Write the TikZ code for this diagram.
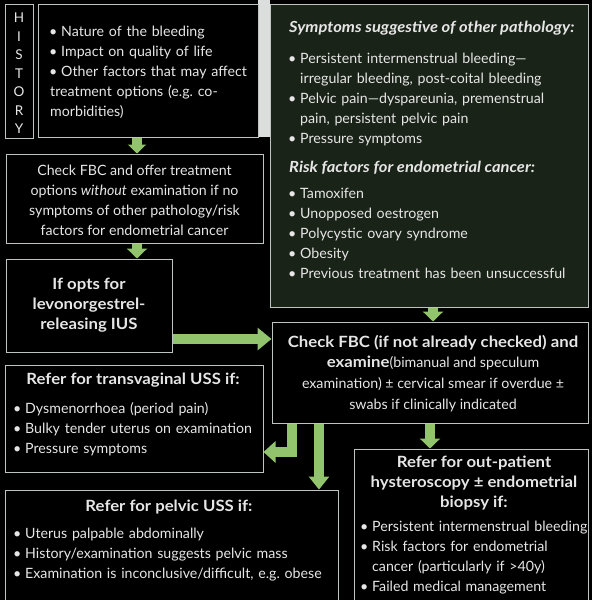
\documentclass[tikz,border=0pt]{standalone}
\usepackage{fontspec}
\setmainfont{Lato}
\newfontfamily\hdf[FakeStretch=1.08]{Lato}
\usetikzlibrary{arrows.meta}
\definecolor{boxline}{RGB}{190,196,192}
\definecolor{txt}{RGB}{230,230,230}
\definecolor{grn}{RGB}{146,196,110}
\definecolor{dkgreen}{RGB}{26,35,23}
\definecolor{strip}{RGB}{220,222,221}
\setlength\parindent{0pt}
\newcommand\fstrut{\vrule height 14pt depth 0pt width 0pt}
\newcommand\bulbox{\hbox to 11pt{\hbox to 6pt{\hss\textbullet\hss}\hss}}
\newcommand\bfirst{\leavevmode\hangindent=11pt\hangafter=1\bulbox\fstrut}
\newcommand\bitem{\par\hangindent=11pt\hangafter=1\noindent\bulbox}
\begin{document}
\begin{tikzpicture}[x=1pt,y=-1pt,
  box/.style={draw=boxline, line width=1pt, fill=black, inner sep=0pt},
  txtn/.style={text=txt, inner sep=0pt, font=\fontsize{14.2}{20}\selectfont},
  lst/.style={txtn, anchor=north west, text width=320pt, align=left},
  ctr/.style={txtn, anchor=north, align=center},
  hd/.style={ctr, font=\hdf\fontsize{15.5}{20}\selectfont\bfseries},
  hdl/.style={txtn, anchor=north west, align=left, font=\hdf\fontsize{15.3}{20}\selectfont\bfseries\itshape},
  flow/.style={draw=grn, line width=10pt, -{Triangle[width=20pt,length=10pt]}}]
\fill[black] (0,0) rectangle (592,600);
\useasboundingbox (0,0) rectangle (592,600);
\fill[strip] (258,0) rectangle (270,137);
% boxes
\node[box, minimum width=28pt, minimum height=134pt] (histlab) at (19,71) {};
\node[txtn, anchor=north, align=center, font=\fontsize{13.5}{18.5}\selectfont] (histtxt) at (19,13) {H\\I\\S\\T\\O\\R\\Y};
\node[box, minimum width=220pt, minimum height=133pt] (hist) at (148,70.5) {};
\node[box, minimum width=257pt, minimum height=89pt] (check1) at (134.5,198.5) {};
\node[box, minimum width=166pt, minimum height=93pt] (ius) at (89,305.5) {};
\node[box, fill=dkgreen, minimum width=318pt, minimum height=303pt] (green) at (429,155.5) {};
\node[box, minimum width=316pt, minimum height=101pt] (exam) at (430,372.5) {};
\node[box, minimum width=258pt, minimum height=107pt] (tv) at (134,418.5) {};
\node[box, minimum width=333pt, minimum height=114pt] (pelvic) at (171.5,547) {};
\node[box, minimum width=234pt, minimum height=155pt] (hyst) at (471,526.5) {};
% texts
\node[lst] (histlist) at (50,22) {\bfirst Nature of the bleeding
\bitem Impact on quality of life
\bitem Other factors that may affect\newline treatment options (e.g.\ co-\newline morbidities)};
\node[ctr] (check1txt) at (134.5,161) {\fstrut Check FBC and offer treatment\\options \emph{without} examination if no\\symptoms of other pathology/risk\\factors for endometrial cancer};
\node[hd] (iustxt) at (89,275) {\fstrut If opts for\\levonorgestrel-\\releasing IUS};
\node[hdl] (greenh1) at (289,18) {\fstrut Symptoms suggestive of other pathology:};
\node[lst] (greenl1) at (289,49) {\bfirst Persistent intermenstrual bleeding—\newline irregular bleeding, post-coital bleeding
\bitem Pelvic pain—dyspareunia, premenstrual\newline pain, persistent pelvic pain
\bitem Pressure symptoms};
\node[hdl] (greenh2) at (289,158) {\fstrut Risk factors for endometrial cancer:};
\node[lst] (greenl2) at (289,184) {\bfirst Tamoxifen
\bitem Unopposed oestrogen
\bitem Polycystic ovary syndrome
\bitem Obesity
\bitem Previous treatment has been unsuccessful};
\node[ctr, font=\fontsize{14.2}{20.7}\selectfont] (examtxt) at (433,333) {\fstrut{\hdf\bfseries\fontsize{15.5}{20.7}\selectfont Check FBC (if not already checked) and}\\{\hdf\bfseries\fontsize{15.5}{20.7}\selectfont examine}(bimanual and speculum\\examination) ± cervical smear if overdue ±\\swabs if clinically indicated};
\node[hd] (tvh) at (133,370) {\fstrut Refer for transvaginal USS if:};
\node[lst] (tvl) at (14,399) {\bfirst Dysmenorrhoea (period pain)
\bitem Bulky tender uterus on examination
\bitem Pressure symptoms};
\node[hd] (pelh) at (169,497) {\fstrut Refer for pelvic USS if:};
\node[lst] (pell) at (14,524) {\bfirst Uterus palpable abdominally
\bitem History/examination suggests pelvic mass
\bitem Examination is inconclusive/difficult, e.g.\ obese};
\node[hd] (hysth) at (474,453) {\fstrut Refer for out-patient\\hysteroscopy ± endometrial\\biopsy if:};
\node[lst] (hystl) at (361,517) {\bfirst Persistent intermenstrual bleeding
\bitem Risk factors for endometrial\newline cancer (particularly if >40y)
\bitem Failed medical management};
% arrow columns/rows
\coordinate (c137) at (137,0);
\coordinate (c433) at (433,0);
\coordinate (c292) at (292,0);
\coordinate (c319) at (319,0);
\coordinate (c430) at (430,0);
\coordinate (r339) at (0,339);
\coordinate (r452) at (0,452);
% arrows
\draw[flow, -{Triangle[width=18pt,length=9pt]}] (hist.south -| c137) -- (check1.north -| c137);
\draw[flow] (check1.south -| c137) -- (ius.north -| c137);
\draw[flow, -{Triangle[width=22pt,length=14pt]}] (ius.east |- r339) -- (exam.west |- r339);
\draw[flow] (green.south -| c433) -- (exam.north -| c433);
\draw[flow, -{Triangle[width=21pt,length=12pt]}] (exam.south -| c292) |- (tv.east |- r452);
\draw[flow, -{Triangle[width=20pt,length=13pt]}] (exam.south -| c319) -- (pelvic.north -| c319);
\draw[flow] (exam.south -| c430) -- (hyst.north -| c430);
\end{tikzpicture}
\end{document}
